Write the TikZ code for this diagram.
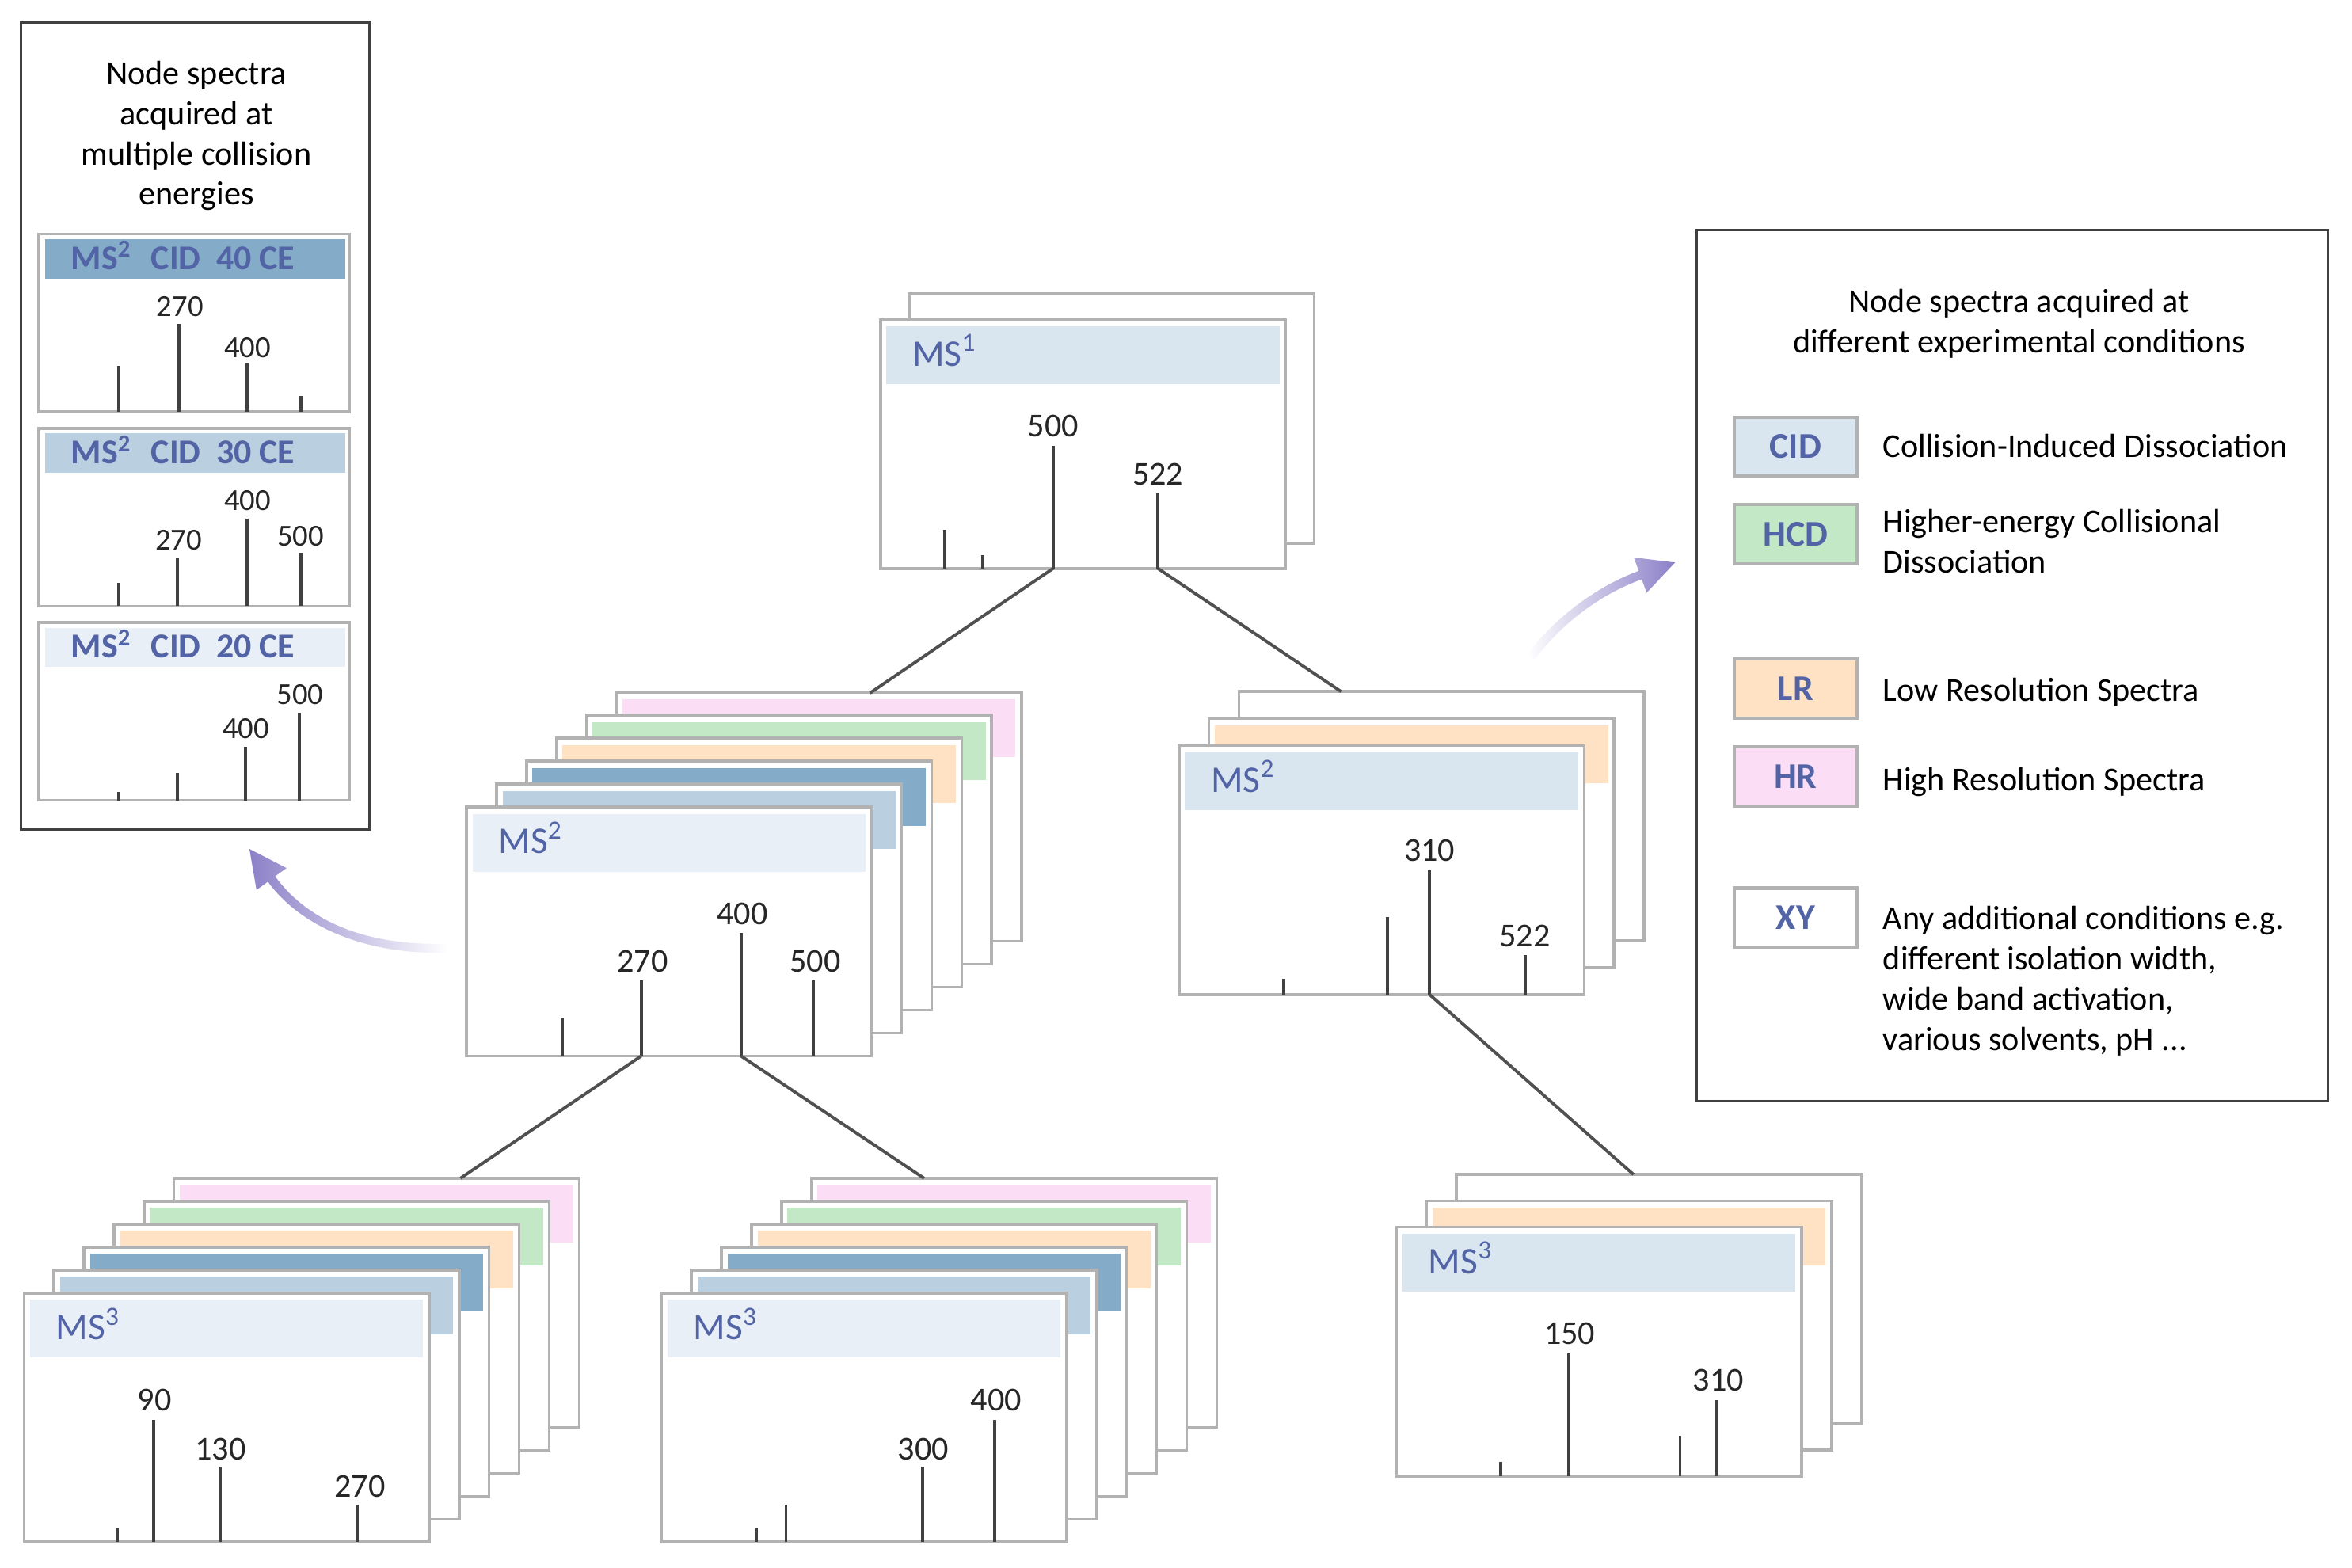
\documentclass[tikz,border=0pt]{standalone}
\usepackage{fontspec}
\setmainfont{Carlito}
\usepackage{xcolor}

\definecolor{cardgray}{RGB}{178,178,178}
\definecolor{peakgray}{RGB}{64,64,64}
\definecolor{linkgray}{RGB}{80,80,80}
\definecolor{msblue}{RGB}{82,100,166}
\definecolor{cid}{RGB}{217,229,239}
\definecolor{cidA}{RGB}{233,239,246}
\definecolor{cidB}{RGB}{186,207,224}
\definecolor{cidC}{RGB}{132,172,200}
\definecolor{hcd}{RGB}{194,232,197}
\definecolor{lr}{RGB}{255,226,196}
\definecolor{hr}{RGB}{251,221,245}
\definecolor{arrowviolet}{RGB}{140,128,200}

\begin{document}
\begin{tikzpicture}[x=0.018941cm, y=-0.018941cm,
    card/.style={draw=cardgray, fill=white, line width=1pt, inner sep=0pt, outer sep=0pt,
        minimum width=5.114cm, minimum height=3.144cm, anchor=north west},
    panel/.style={card, minimum width=3.921cm, minimum height=2.245cm},
    peak/.style={peakgray, line width=1.1pt},
    link/.style={linkgray, line width=1.1pt},
    mz/.style={inner sep=0pt, text=black!85, font=\fontsize{12}{14}\selectfont},
    mzsmall/.style={mz, font=\fontsize{11}{13}\selectfont},
    mslabel/.style={inner sep=0pt, anchor=base west, text=msblue, font=\fontsize{13.5}{16}\selectfont},
    celabel/.style={inner sep=0pt, anchor=base west, text=msblue, font=\fontsize{12.5}{15}\selectfont\bfseries},
    frame/.style={draw=black!75, line width=0.8pt, inner sep=0pt, outer sep=0pt, anchor=north west},
    note/.style={inner sep=0pt, align=center, font=\fontsize{12}{14.4}\selectfont},
    swatch/.style={draw=cardgray, line width=1.2pt, minimum width=1.553cm, minimum height=0.748cm,
        inner sep=0pt, text=msblue, font=\fontsize{13}{15}\selectfont\bfseries},
    legtext/.style={inner sep=0pt, align=left, font=\fontsize{12}{14.5}\selectfont},
    ]
    \useasboundingbox (0,0) rectangle (1568,1045.33);

    % stacks of node spectra, drawn back to front
    \foreach \s/\x/\y/\dx/\dy/\n/\lvl/\cols in {
        M1/587/213/19/-17/2/1/{white,cid},
        L2/311/538/20/-15.3/6/2/{hr,hcd,lr,cidC,cidB,cidA},
        R2/786/497/20/-18/3/2/{white,lr,cid},
        L3/16/862/20/-15.3/6/3/{hr,hcd,lr,cidC,cidB,cidA},
        M3/441/862/20/-15.3/6/3/{hr,hcd,lr,cidC,cidB,cidA},
        R3/931/818/20/-17.5/3/3/{white,lr,cid}} {
        \foreach \c [count=\k] in \cols {
            \pgfmathsetmacro\cx{\x+(\n-\k)*\dx}
            \pgfmathsetmacro\cy{\y+(\n-\k)*\dy}
            \node[card] (\s-\k) at (\cx,\cy) {};
            \fill[\c] ([shift={(4,4.5)}]\s-\k.north west) rectangle ([shift={(-4,43)}]\s-\k.north east);
        }
        \node[mslabel] (\s-ms) at ([shift={(21,31)}]\s-\n.north west) {MS\textsuperscript{\lvl}};
    }

    \foreach \px/\py in {630/353, 655/370, 702/297, 772/329}
        \draw[peak] (\px,379) -- (\px,\py);
    \node[mz] (M1-500) at (702,284) {500};
    \node[mz] (M1-522) at (772,316) {522};

    \foreach \px/\py in {375/678.5, 427.5/653.5, 494/622, 542/653.5}
        \draw[peak] (\px,704) -- (\px,\py);
    \node[mz] (L2-270) at (428.5,641) {270};
    \node[mz] (L2-400) at (495,609) {400};
    \node[mz] (L2-500) at (543.5,641) {500};

    \foreach \px/\py in {856/652.5, 925/611.6, 953/580, 1017/636.6}
        \draw[peak] (\px,663) -- (\px,\py);
    \node[mz] (R2-310) at (953,567) {310};
    \node[mz] (R2-522) at (1016.5,624) {522};

    \foreach \px/\py in {78/1019, 102.5/946.5, 147/978, 238/1003}
        \draw[peak] (\px,1028) -- (\px,\py);
    \node[mz] (L3-90) at (103,933.5) {90};
    \node[mz] (L3-130) at (147,966) {130};
    \node[mz] (L3-270) at (240,991) {270};

    \foreach \px/\py in {504/1018.6, 524/1003, 615/978, 663/946.5}
        \draw[peak] (\px,1028) -- (\px,\py);
    \node[mz] (M3-300) at (615.5,966) {300};
    \node[mz] (M3-400) at (664,933.5) {400};

    \foreach \px/\py in {1000.5/974.6, 1046/902, 1120/957, 1144.5/933.5}
        \draw[peak] (\px,984) -- (\px,\py);
    \node[mz] (R3-150) at (1046.5,889) {150};
    \node[mz] (R3-310) at (1145.5,920) {310};

    % fragmentation tree
    \coordinate (M1-p500) at (702,379);
    \coordinate (M1-p522) at (772,379);
    \coordinate (L2-p270) at (427.5,704);
    \coordinate (L2-p400) at (494,704);
    \coordinate (R2-p310) at (953,663);
    \coordinate (L2-top) at (580,462);
    \coordinate (R2-top) at (894,461);
    \coordinate (L3-top) at (307,785.5);
    \coordinate (M3-top) at (616,785.5);
    \coordinate (R3-top) at (1089,783);
    \draw[link] (M1-p500) -- (L2-top);
    \draw[link] (M1-p522) -- (R2-top);
    \draw[link] (L2-p270) -- (L3-top);
    \draw[link] (L2-p400) -- (M3-top);
    \draw[link] (R2-p310) -- (R3-top);

    % collision energies
    \node[frame, minimum width=4.402cm, minimum height=10.19cm] (cebox) at (14,15) {};
    \node[note, anchor=north] (cetitle) at (131,37.4) {\strut Node spectra\\acquired at\\multiple collision\\energies};
    \foreach \e/\py/\c in {40/156/cidC, 30/285.5/cidB, 20/415/cidA} {
        \node[panel] (ce\e) at (26,\py) {};
        \fill[\c] ([shift={(4,3.4)}]ce\e.north west) rectangle ([shift={(-3,29.6)}]ce\e.north east);
        \node[celabel] (ce\e-label) at ([shift={(21,23.6)}]ce\e.north west) {MS\textsuperscript{2}\hspace{7pt}CID\hspace{5.6pt}\e{} CE};
    }
    \foreach \px/\py in {79.2/244, 119.2/216, 164.9/242.5, 200.6/264}
        \draw[peak] (\px,274.5) -- (\px,\py);
    \node[mzsmall] (ce40-270) at (120,204.4) {270};
    \node[mzsmall] (ce40-400) at (165,231.8) {400};
    \foreach \px/\py in {79.2/388.6, 118.3/371.5, 164.9/345.6, 200.6/368.7}
        \draw[peak] (\px,404) -- (\px,\py);
    \node[mzsmall] (ce30-270) at (119,360) {270};
    \node[mzsmall] (ce30-400) at (165,333.5) {400};
    \node[mzsmall] (ce30-500) at (200.5,357.3) {500};
    \foreach \px/\py in {79/528, 118.3/515.5, 163.7/497.8, 199.4/475.3}
        \draw[peak] (\px,533.5) -- (\px,\py);
    \node[mzsmall] (ce20-400) at (164,486) {400};
    \node[mzsmall] (ce20-500) at (200,463.3) {500};

    % experimental conditions
    \node[frame, minimum width=7.974cm, minimum height=10.995cm] (legend) at (1131,153.5) {};
    \node[note, anchor=north] (legtitle) at (1346,189.2) {\strut Node spectra acquired at\\different experimental conditions};
    \node[swatch, fill=cid] (sw-cid) at (1197,297.8) {CID};
    \node[swatch, fill=hcd] (sw-hcd) at (1197,356.2) {HCD};
    \node[swatch, fill=lr] (sw-lr) at (1197,459) {LR};
    \node[swatch, fill=hr] (sw-hr) at (1197,517.8) {HR};
    \node[swatch, fill=white] (sw-xy) at (1197,611.8) {XY};
    \node[legtext, anchor=base west] (tx-cid) at (1255,305) {Collision-Induced Dissociation};
    \node[legtext, anchor=north west] (tx-hcd) at (1255,335.7) {\strut Higher-energy Collisional\\Dissociation};
    \node[legtext, anchor=base west] (tx-lr) at (1255,467.5) {Low Resolution Spectra};
    \node[legtext, anchor=base west] (tx-hr) at (1255,527) {High Resolution Spectra};
    \node[legtext, anchor=north west] (tx-xy) at (1255,600.5) {\strut Any additional conditions e.g.\\different isolation width,\\wide band activation,\\various solvents, pH ...};

    % curved arrows
    \shade[left color=arrowviolet, middle color=arrowviolet!75, right color=white]
        (299,629) .. controls (250,631) and (207.4,617.2) .. (183.4,584.2)
        -- (191,578.7) -- (166.3,566) -- (171,593.3) -- (178.6,587.8)
        .. controls (202.6,620.8) and (250,637) .. (299,635) -- cycle;
    \shade[left color=white, middle color=arrowviolet!75, right color=arrowviolet]
        (1018.2,436.2) .. controls (1036.2,412.2) and (1064.3,390.8) .. (1092.5,380.6)
        -- (1089.25,371.65) -- (1116.7,375) -- (1097.75,395.15) -- (1094.5,386.2)
        .. controls (1066.3,396.4) and (1041,415.8) .. (1023,439.8) -- cycle;
\end{tikzpicture}
\end{document}
